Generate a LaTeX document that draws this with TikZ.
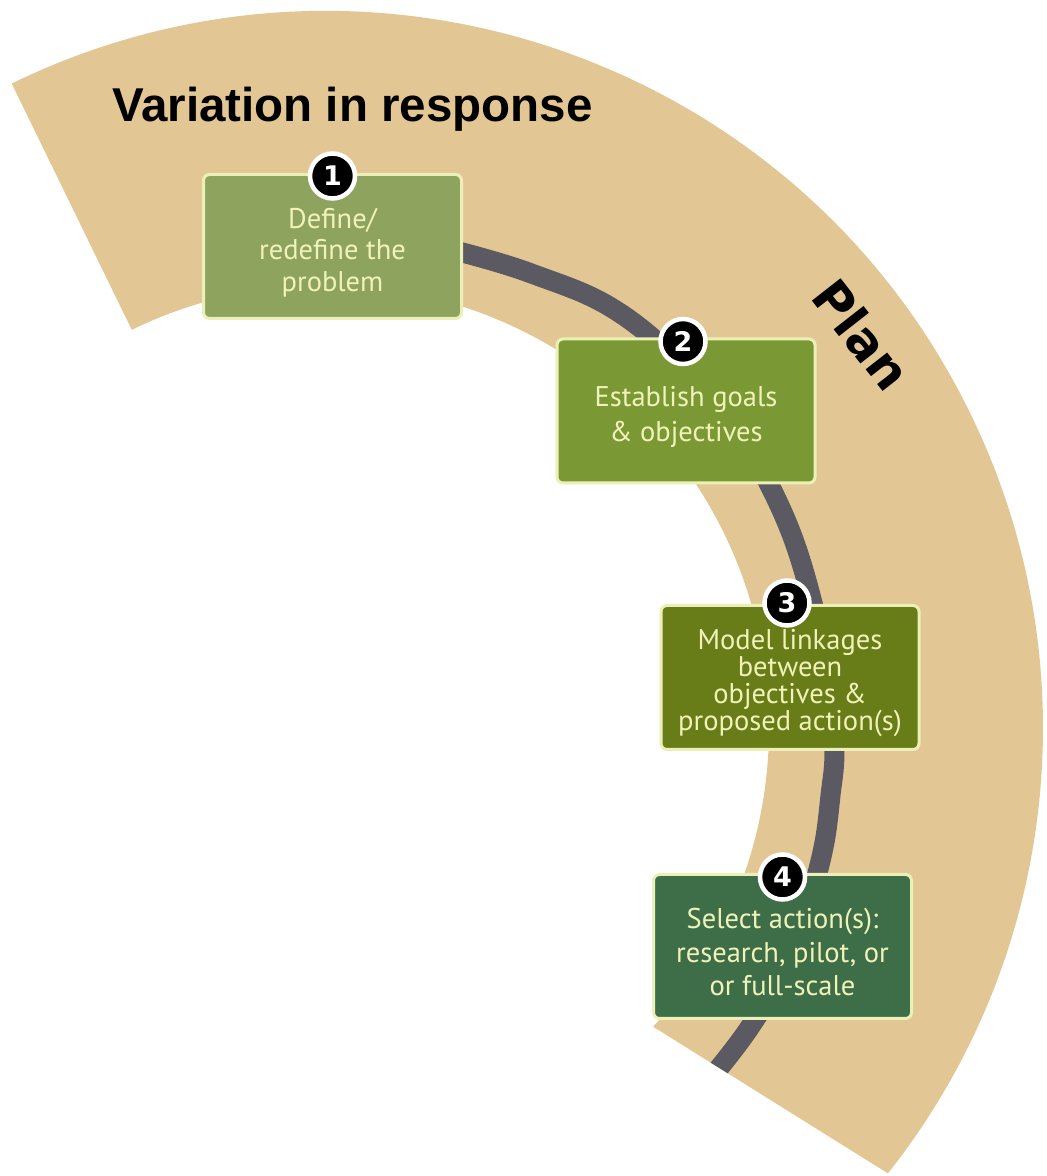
\documentclass[tikz,border=0pt]{standalone}
\usepackage{fontspec}
\setmainfont{PT Sans}
\newfontfamily\titlefont{Liberation Sans}
\newfontfamily\heavyfont{DejaVu Sans}
\usetikzlibrary{calc}

\definecolor{ringtan}{RGB}{226,199,148}
\definecolor{trackgray}{RGB}{91,90,98}
\definecolor{stepone}{RGB}{141,163,94}
\definecolor{steptwo}{RGB}{122,152,52}
\definecolor{stepthree}{RGB}{104,124,24}
\definecolor{stepfour}{RGB}{62,110,72}
\definecolor{boxrim}{RGB}{236,240,184}
\definecolor{boxink}{RGB}{240,242,186}

\tikzset{
  stepbox/.style={rectangle, rounded corners=6pt, draw=boxrim, line width=3pt,
    minimum width=258pt, minimum height=144pt, inner sep=0pt},
  boxtext/.style={text=boxink, align=center, inner sep=0pt},
  badge/.style={circle, fill=black, draw=white, line width=4.5pt,
    minimum size=45pt, inner sep=0pt, text=white,
    font=\heavyfont\bfseries\fontsize{27}{27}\selectfont},
  track/.style={draw=trackgray, line width=20pt},
}

\begin{document}
\begin{tikzpicture}[x=1pt,y=1pt]
  % canvas
  \fill[white] (0,0) rectangle (1047,1176);
  \useasboundingbox (0,0) rectangle (1047,1176);

  % tan ring segment
  \coordinate (C) at (326,448);
  \fill[ringtan] ($(C)+(116:717pt)$) arc[start angle=116, end angle=-38.4, radius=717pt]
    -- ($(C)+(-42.4:443pt)$) arc[start angle=-42.4, end angle=116, radius=443pt] -- cycle;

  % grey track running along the ring, cut off at its ends
  \begin{scope}
    \clip ($(C)+(116:717pt)$) arc[start angle=116, end angle=-38.4, radius=717pt]
      -- ($(C)+(-42.4:443pt)$) arc[start angle=-42.4, end angle=116, radius=443pt] -- cycle;
    \draw[track] plot[smooth, tension=0.7] coordinates {
      (420,934) (530,903) (630,856) (715,770) (772,686) (812,575)
      (833,450) (830,376) (818,305) (790,220) (750,149) (700,85)};
  \end{scope}

  % title and phase name
  \node[anchor=base west, inner sep=0pt,
        font=\titlefont\bfseries\fontsize{47.5}{50}\selectfont] (title)
        at (112,1054) {Variation in response};
  \node[rotate=-52, inner sep=0pt,
        font=\heavyfont\bfseries\fontsize{50}{50}\selectfont] (plan)
        at (862,841) {Plan};

  % step boxes
  \node[stepbox, fill=stepone]   (b1) at (332.5,929.5) {};
  \node[stepbox, fill=steptwo]   (b2) at (686,765)     {};
  \node[stepbox, fill=stepthree] (b3) at (790,498.5)   {};
  \node[stepbox, fill=stepfour]  (b4) at (782.5,229.5) {};

  % box texts
  \node[boxtext, font=\fontsize{28.5}{31.5}\selectfont] (t1) at ($(b1.center)+(0,-6)$)
    {Define/\\redefine the\\problem};
  \node[boxtext, font=\fontsize{28.5}{35}\selectfont] (t2) at ($(b2.center)+(0,-6)$)
    {Establish goals\\\& objectives};
  \node[boxtext, font=\fontsize{28.5}{27}\selectfont] (t3) at ($(b3.center)+(0,-6)$)
    {Model linkages\\between\\objectives \&\\proposed action(s)};
  \node[boxtext, font=\fontsize{28.5}{33.5}\selectfont] (t4) at ($(b4.center)+(0,-6)$)
    {Select action(s):\\research, pilot, or\\or full-scale};

  % numbered badges
  \node[badge] (n1) at ($(b1.north)+(0,-3)$) {1};
  \node[badge] (n2) at ($(b2.north)+(-3,-4)$) {2};
  \node[badge] (n3) at ($(b3.north)+(-3,1)$) {3};
  \node[badge] (n4) at ($(b4.north)+(0,-4)$) {4};
\end{tikzpicture}
\end{document}
